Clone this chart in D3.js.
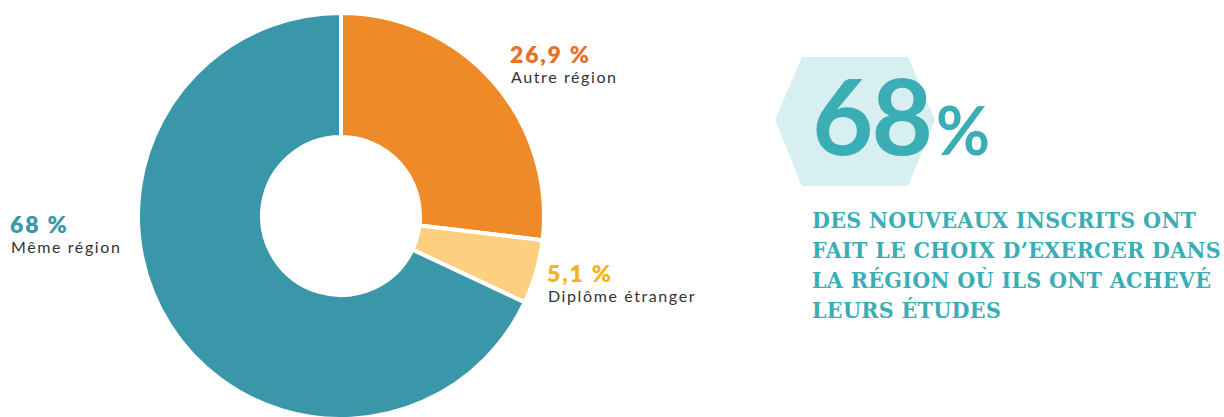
<!DOCTYPE html>
<html>
<head>
<meta charset="utf-8">
<script src="https://cdn.jsdelivr.net/npm/d3@7"></script>
<style>
  body { margin: 0; background: #fff; }
  svg { display: block; }
</style>
</head>
<body>
<svg id="chart" width="1224" height="417"></svg>
<script>
// slices, clockwise from 12 o'clock
var categories = ["Autre région", "Diplôme étranger", "Même région"];
var values = [26.9, 5.1, 68];
var valueLabels = ["26,9 %", "5,1 %", "68 %"];
var sliceColors = ["#ee8a28", "#fdcf7f", "#3997a9"];
var labelColors = ["#e8702a", "#f5b320", "#3997a9"];
var headline = "68";
var headlineUnit = "%";
var blurbLines = ["DES NOUVEAUX INSCRITS ONT", "FAIT LE CHOIX D\u2019EXERCER DANS", "LA RÉGION OÙ ILS ONT ACHEVÉ", "LEURS ÉTUDES"];

var svg = d3.select("#chart");
var cx = 341, cy = 216, outerR = 203, innerR = 79;

var pie = d3.pie().sort(null).value(d => d.value);
var arc = d3.arc().innerRadius(innerR).outerRadius(outerR);
var color = d3.scaleOrdinal().domain(categories).range(sliceColors);
var data = categories.map((c, i) => ({name: c, value: values[i], label: valueLabels[i], lc: labelColors[i]}));

var g = svg.append("g").attr("transform", "translate(" + cx + "," + cy + ")");
g.selectAll("path")
  .data(pie(data))
  .enter()
  .append("path")
    .attr("d", arc)
    .attr("fill", d => color(d.data.name))
    .attr("stroke", "#fff")
    .attr("stroke-width", 4)
    .attr("stroke-linejoin", "miter");

// label anchors (left edge of text block, baseline of the value)
var labelPos = {"Autre région": [510, 63], "Diplôme étranger": [547, 282], "Même région": [10, 233]};
var labels = svg.selectAll("g.lbl")
  .data(data)
  .enter()
  .append("g")
    .attr("class", "lbl")
    .attr("transform", d => "translate(" + labelPos[d.name][0] + "," + labelPos[d.name][1] + ")");
labels.append("text")
  .attr("font-family", "Lato, 'Open Sans', sans-serif")
  .attr("font-weight", 800)
  .attr("font-size", 23)
  .attr("letter-spacing", 1.8)
  .attr("fill", d => d.lc)
  .text(d => d.label);
labels.append("text")
  .attr("y", 20)
  .attr("x", 1)
  .attr("font-family", "Lato, 'Open Sans', sans-serif")
  .attr("font-size", 16)
  .attr("letter-spacing", 1.6)
  .attr("fill", "#333")
  .text(d => d.name);

// headline block
var hex = [[775, 120], [802, 57], [908, 57], [935, 120], [908, 186], [802, 186]];
svg.append("path")
  .attr("d", d3.line()(hex) + "Z")
  .attr("fill", "#d8eff1");

var big = svg.append("text")
  .attr("x", 812)
  .attr("y", 155)
  .attr("fill", "#3aaeb4")
  .attr("font-family", "Lato, sans-serif")
  .attr("font-weight", 700);
big.append("tspan").attr("font-size", 106).attr("letter-spacing", -2).text(headline);
big.append("tspan").attr("font-size", 66).attr("dx", 5).text(headlineUnit);

svg.append("g")
  .selectAll("text")
  .data(blurbLines)
  .enter()
  .append("text")
    .attr("x", 812)
    .attr("y", (d, i) => 228 + i * 30)
    .attr("fill", "#3aaeb4")
    .attr("font-family", "'DejaVu Serif Condensed', 'DejaVu Serif', serif")
    .attr("font-weight", 700)
    .attr("font-size", 23)
    .attr("letter-spacing", 0.3)
    .text(d => d);
</script>
</body>
</html>
